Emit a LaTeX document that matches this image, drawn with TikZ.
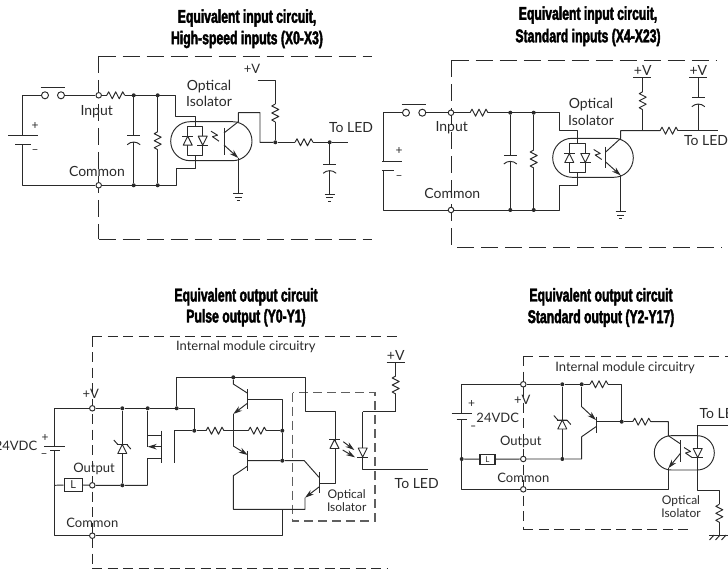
\documentclass[tikz,border=0pt]{standalone}
\usepackage{fontspec}
\setmainfont{Lato}
\newfontfamily\titlefont[FakeStretch=0.66,FakeBold=2.2]{Liberation Sans Bold}
\usepackage{tikz}
\usetikzlibrary{arrows.meta}

\definecolor{ink}{HTML}{2A2A2A}

\tikzset{
  wire/.style={draw=ink, line width=0.95pt, line join=round},
  dashbox/.style={draw=ink, line width=0.95pt, dash pattern=on 17pt off 7pt},
  shortdash/.style={draw=ink, line width=0.95pt, dash pattern=on 10pt off 5.5pt},
  optobox/.style={draw=ink!75, line width=1.3pt, dash pattern=on 9pt off 5pt},
  term/.style={circle, draw=ink, fill=white, line width=0.95pt, minimum size=5.5pt, inner sep=0pt},
  contact/.style={term, minimum size=7pt},
  dot/.style={circle, fill=ink, minimum size=4pt, inner sep=0pt},
  lbl/.style={text=ink, font=\fontsize{14}{15}\selectfont, inner sep=0pt},
  small/.style={text=ink, font=\fontsize{13}{14}\selectfont, inner sep=0pt},
  tiny/.style={text=ink, font=\fontsize{12}{13}\selectfont, inner sep=0pt},
  heading/.style={text=black, font=\titlefont\fontsize{18.5}{20}\selectfont, inner sep=0pt},
  tip/.style={-{Stealth[length=9pt, width=5.5pt]}},
}

\newcommand\resh[1]{\draw[wire] (#1) -- ++(2,-3.5) -- ++(3.5,7) -- ++(3.5,-7) -- ++(3.5,7) -- ++(3.5,-7) -- ++(2,3.5) coordinate (#1e);}
\newcommand\resv[1]{\draw[wire] (#1) -- ++(-3.5,2) -- ++(7,3.5) -- ++(-7,3.5) -- ++(7,3.5) -- ++(-7,3.5) -- ++(3.5,2) coordinate (#1e);}
\newcommand\capv[1]{
  \draw[wire] (#1) ++(-6.5,0) -- ++(13,0);
  \draw[wire] (#1) ++(-6.5,9) .. controls +(3.5,-3.5) and +(-3.5,-3.5) .. +(13,0);
  \path (#1) ++(0,6.4) coordinate (#1e);
}
\newcommand\earth[1]{
  \draw[wire] (#1) ++(-5,0) -- ++(10,0);
  \draw[wire] (#1) ++(-3.5,3.5) -- ++(7,0);
  \draw[wire] (#1) ++(-1.5,7) -- ++(3,0);
}
\newcommand\diodeup[1]{\draw[wire, fill=white] (#1) ++(-4.5,4.5) -- ++(9,0) -- ++(-4.5,-9) -- cycle; \draw[wire] (#1) ++(-5.5,-4.5) -- ++(11,0);}
\newcommand\diodedn[1]{\draw[wire, fill=white] (#1) ++(-4.5,-4.5) -- ++(9,0) -- ++(-4.5,9) -- cycle; \draw[wire] (#1) ++(-5.5,4.5) -- ++(11,0);}
\newcommand\zener[1]{\diodeup{#1} \draw[wire, fill=none] (#1) ++(-8.5,-9) -- ++(4,4.5) -- ++(9,0) -- ++(4,4.5);}
\newcommand\flash[1]{\draw[wire] (#1) ++(-4,-5.5) -- ++(6.5,4) -- ++(-5,1.5) -- ++(6.5,4.5);}

\begin{document}
\begin{tikzpicture}[x=1pt, y=-1pt]
  \useasboundingbox (0,0) rectangle (728,569);

  \node[heading] (TitleA) at (247,18) {Equivalent input circuit,};
  \node[heading] (TitleAb) at (247,39.5) {High-speed inputs (X0-X3)};
  \node[heading] (TitleB) at (588,15) {Equivalent input circuit,};
  \node[heading] (TitleBb) at (588,37.5) {Standard inputs (X4-X23)};
  \node[heading] (TitleC) at (246,296.7) {Equivalent output circuit};
  \node[heading] (TitleCb) at (246,317.7) {Pulse output (Y0-Y1)};
  \node[heading] (TitleD) at (601,296.7) {Equivalent output circuit};
  \node[heading] (TitleDb) at (601,318.3) {Standard output (Y2-Y17)};

  \coordinate (BoxTA) at (372,56);
  \coordinate (BoxNWA) at (98.7,56);
  \coordinate (BoxSWA) at (98.7,239);
  \coordinate (BoxBA) at (372,239);
  \draw[dashbox] (BoxNWA) -- (BoxTA);
  \draw[dashbox] (BoxNWA) -- (BoxSWA);
  \draw[dashbox] (BoxSWA) -- (BoxBA);

  \node[term] (InA) at (98.7,95.3) {};
  \node[term] (ComA) at (98.7,185.3) {};
  \node[contact] (SwLA) at (45,95.3) {};
  \node[contact] (SwRA) at (61,95.3) {};
  \node[dot] (JcapA) at (133.7,95.3) {};
  \node[dot] (JresA) at (157.7,95.3) {};
  \node[dot] (KcapA) at (133.7,185.3) {};
  \node[dot] (KresA) at (157.7,185.3) {};
  \node[dot] (JvA) at (275.3,142.3) {};
  \node[dot] (JoutA) at (329.7,142.3) {};

  \coordinate (BatPA) at (22.7,135.7);
  \coordinate (BatNA) at (22.7,144.7);
  \coordinate (RinA) at (106.7,95.3);
  \coordinate (CinA) at (133.7,135.7);
  \coordinate (RshA) at (157.7,131.7);
  \coordinate (InrA) at (175,95.3);
  \coordinate (InsA) at (175,116);
  \coordinate (AnA) at (195,116);
  \coordinate (DtopA) at (195,126);
  \coordinate (DbotA) at (195,155);
  \coordinate (CatA) at (195,168);
  \coordinate (CasA) at (176.7,168);
  \coordinate (CarA) at (176.7,185.3);
  \coordinate (D1A) at (187.7,140.7);
  \coordinate (D2A) at (202.7,140.7);
  \coordinate (FlashA) at (215,136.7);
  \coordinate (ColA) at (238.3,112.7);
  \coordinate (ColcA) at (238.3,121.7);
  \coordinate (ColbA) at (224,133);
  \coordinate (EmibA) at (224,145);
  \coordinate (EmiA) at (238.3,158);
  \coordinate (ColrA) at (260,112.7);
  \coordinate (ColdA) at (260,142.3);
  \coordinate (GndA) at (238.3,193.5);
  \coordinate (VtopA) at (257.7,80);
  \coordinate (VcnrA) at (275.3,80);
  \coordinate (RvA) at (275.3,104);
  \coordinate (RoutA) at (295,142.3);
  \coordinate (EndA) at (347.7,142.3);
  \coordinate (CoutA) at (329.7,164.3);
  \coordinate (GndbA) at (329.7,194);

  \draw[wire] (InA) -- (RinA);
  \draw[wire] (SwLA) -| (BatPA);
  \draw[wire] (BatNA) |- (ComA);
  \draw[wire] (ComA) -- (CarA) -- (CasA) -- (CatA) -- (DbotA);
  \draw[wire] (SwRA) -- (InA);
  \draw[wire] (40.7,87.3) -- (65.3,87.3);
  \resh{RinA}
  \draw[wire] (RinAe) -- (InrA) -- (InsA) -- (AnA) -- (DtopA);
  \draw[wire] (JcapA) -- (CinA);
  \capv{CinA}
  \draw[wire] (CinAe) -- (KcapA);
  \draw[wire] (JresA) -- (RshA);
  \resv{RshA}
  \draw[wire] (RshAe) -- (KresA);
  \draw[wire] (8,135.7) -- (38,135.7);
  \draw[wire] (15,144.7) -- (30.7,144.7);
  \draw[wire, rounded corners=19.4pt] (170.7,121.7) rectangle (252,160.7);
  \draw[wire] (187.7,126) rectangle (202.7,155);
  \diodeup{D1A}
  \diodedn{D2A}
  \flash{FlashA}
  \draw[wire] (224,128) -- (224,155);
  \draw[wire] (ColbA) -- (ColcA) -- (ColA) -- (ColrA) -- (ColdA) -- (JvA);
  \draw[wire, tip] (EmibA) -- (EmiA);
  \draw[wire] (EmiA) -- (GndA);
  \earth{GndA}
  \draw[wire] (VtopA) -- (VcnrA) -- (RvA);
  \resv{RvA}
  \draw[wire] (RvAe) -- (JvA);
  \draw[wire] (JvA) -- (RoutA);
  \resh{RoutA}
  \draw[wire] (RoutAe) -- (JoutA) -- (EndA);
  \draw[wire] (JoutA) -- (CoutA);
  \capv{CoutA}
  \draw[wire] (CoutAe) -- (GndbA);
  \earth{GndbA}

  \node[lbl] (LInA) at (96.7,111.7) {Input};
  \node[lbl] (LComA) at (97,171.7) {Common};
  \node[lbl] (LOptA) at (209,86.7) {Optical};
  \node[lbl] (LIsoA) at (209,101.7) {Isolator};
  \node[small] (LVA) at (252,69) {+V};
  \node[lbl] (LLedA) at (351,128) {To LED};
  \node[tiny] (LPA) at (35,126) {+};
  \node[tiny] (LMA) at (35,152) {--};

  \coordinate (BoxTB) at (716.7,60.3);
  \coordinate (BoxNWB) at (451.7,60.3);
  \coordinate (BoxSWB) at (451.7,247);
  \coordinate (BoxBs) at (457,247);
  \coordinate (BoxBB) at (721.7,247);
  \draw[dashbox] (BoxNWB) -- (BoxTB);
  \draw[dashbox] (BoxNWB) -- (BoxSWB);
  \draw[dashbox] (BoxBs) -- (BoxBB);

  \node[term] (InB) at (451,112.7) {};
  \node[term] (ComB) at (451,210) {};
  \node[contact] (SwLB) at (406,112.7) {};
  \node[contact] (SwRB) at (422.3,112.7) {};
  \node[dot] (JcapB) at (510.3,112.7) {};
  \node[dot] (JresB) at (533.7,112.7) {};
  \node[dot] (KcapB) at (510.3,210) {};
  \node[dot] (KresB) at (533.7,210) {};

  \coordinate (BatPB) at (383.3,161.7);
  \coordinate (BatNB) at (383.3,170.3);
  \coordinate (RinB) at (470,112.7);
  \coordinate (CinB) at (510.3,155);
  \coordinate (RshB) at (533.7,150);
  \coordinate (InrB) at (559,112.7);
  \coordinate (InsB) at (559,130.7);
  \coordinate (AnB) at (577.3,130.7);
  \coordinate (DtopB) at (577.3,143.3);
  \coordinate (DbotB) at (577.3,172.3);
  \coordinate (CatB) at (577.3,185);
  \coordinate (CasB) at (559,185);
  \coordinate (CarB) at (559,210);
  \coordinate (D1B) at (569.3,158);
  \coordinate (D2B) at (585.3,158);
  \coordinate (FlashB) at (597.7,155);
  \coordinate (ColB) at (620.7,130.7);
  \coordinate (ColcB) at (620.7,138.3);
  \coordinate (ColbB) at (605.7,152);
  \coordinate (EmibB) at (605.7,162);
  \coordinate (EmiB) at (620.7,175.5);
  \coordinate (GndB) at (620.7,211.7);
  \coordinate (JvB) at (642.7,130.7);
  \coordinate (VpB) at (642.7,77.3);
  \coordinate (RvB) at (642.7,91.7);
  \coordinate (RoutB) at (660,130.7);
  \coordinate (EndB) at (717.7,130.7);
  \coordinate (CpB) at (698.3,77.3);
  \coordinate (CoutB) at (698.3,97.7);
  \coordinate (JcB) at (698.3,130.7);

  \draw[wire] (SwLB) -| (BatPB);
  \draw[wire] (BatNB) |- (ComB);
  \draw[wire] (SwRB) -- (InB) -- (RinB);
  \draw[wire] (401.7,104.3) -- (426,104.3);
  \resh{RinB}
  \draw[wire] (RinBe) -- (InrB) -- (InsB) -- (AnB) -- (DtopB);
  \draw[wire] (JcapB) -- (CinB);
  \capv{CinB}
  \draw[wire] (CinBe) -- (KcapB);
  \draw[wire] (JresB) -- (RshB);
  \resv{RshB}
  \draw[wire] (RshBe) -- (KresB);
  \draw[wire] (ComB) -- (CarB) -- (CasB) -- (CatB) -- (DbotB);
  \draw[wire] (382.3,161.7) -- (401.7,161.7);
  \draw[wire] (382.3,170.3) -- (394,170.3);
  \draw[wire, rounded corners=19.4pt] (552.7,138.3) rectangle (633.3,177.3);
  \draw[wire] (569.3,143.3) rectangle (585.3,172.3);
  \diodeup{D1B}
  \diodedn{D2B}
  \flash{FlashB}
  \draw[wire] (605.7,146.7) -- (605.7,167.7);
  \draw[wire] (ColbB) -- (ColcB) -- (ColB) -- (RoutB);
  \draw[wire, tip] (EmibB) -- (EmiB);
  \draw[wire] (EmiB) -- (GndB);
  \earth{GndB}
  \draw[wire] (633.3,77.3) -- (651,77.3);
  \draw[wire] (VpB) -- (RvB);
  \resv{RvB}
  \draw[wire] (RvBe) -- (JvB);
  \resh{RoutB}
  \draw[wire] (RoutBe) -- (EndB);
  \draw[wire] (689.3,77.3) -- (706.7,77.3);
  \draw[wire] (CpB) -- (CoutB);
  \capv{CoutB}
  \draw[wire] (CoutBe) -- (JcB);

  \node[lbl] (LInB) at (451.7,127.3) {Input};
  \node[lbl] (LComB) at (452.3,193.3) {Common};
  \node[lbl] (LOptB) at (591,104.3) {Optical};
  \node[lbl] (LIsoB) at (591,120) {Isolator};
  \node[lbl] (LVB) at (642.7,70) {+V};
  \node[lbl] (LVcB) at (698.3,70) {+V};
  \node[lbl] (LLedB) at (706,141) {To LED};
  \node[tiny] (LPB) at (399,151) {+};
  \node[tiny] (LMB) at (399,178) {--};

  \coordinate (BoxTC) at (396.7,336.7);
  \coordinate (BoxNWC) at (92,336.7);
  \coordinate (BoxSWC) at (92,568.3);
  \coordinate (BoxBC) at (388,568.3);
  \draw[shortdash] (BoxNWC) -- (BoxTC);
  \draw[shortdash] (BoxNWC) -- (BoxSWC);
  \draw[shortdash] (BoxSWC) -- (BoxBC);
  \draw[optobox] (292.7,392.7) rectangle (375,521);

  \node[term] (VtC) at (92.3,408.3) {};
  \node[term] (OutC) at (92.3,485.3) {};
  \node[term] (ComC) at (92.3,535.7) {};
  \node[dot] (JzC) at (122.3,408.3) {};
  \node[dot] (KzC) at (122.3,485.3) {};
  \node[dot] (JmC) at (147.7,408.3) {};
  \node[dot] (JrC) at (176.7,408.3) {};
  \node[dot] (JgC) at (194.3,430.7) {};
  \node[dot] (JtC) at (233.3,377.3) {};
  \node[dot] (JbC) at (282.3,430.7) {};
  \node[dot] (JcC) at (282.3,460.7) {};
  \node[draw=ink, line width=1.1pt, minimum width=18.3pt, minimum height=12.7pt, inner sep=0pt, text=ink, font=\fontsize{11}{12}\selectfont] (LoadC) at (73.2,484.7) {L};

  \coordinate (BatC) at (54.7,408.3);
  \coordinate (BatPC) at (54.7,446.3);
  \coordinate (BatNC) at (54.7,450.7);
  \coordinate (LlC) at (54.7,485.3);
  \coordinate (BotC) at (54.7,535.7);
  \coordinate (RailC) at (194.3,408.3);
  \coordinate (ZeC) at (122.3,449);
  \coordinate (MtC) at (147.7,435);
  \coordinate (MmC) at (147.7,446.7);
  \coordinate (MbC) at (147.7,458.3);
  \coordinate (MdC) at (147.7,485.3);
  \coordinate (GtC) at (174,430.7);
  \coordinate (GbC) at (174,463.3);
  \coordinate (RgC) at (206,430.7);
  \coordinate (MidC) at (233.3,430.7);
  \coordinate (RbC) at (248.3,430.7);
  \coordinate (UpC) at (176.7,377.3);
  \coordinate (UprC) at (305.7,377.3);
  \coordinate (LdC) at (305.7,411.7);
  \coordinate (LaC) at (335,411.7);
  \coordinate (LbC) at (335,483.3);
  \coordinate (BsC) at (319,483.3);
  \coordinate (QaC) at (233.3,384);
  \coordinate (QbC) at (247.7,393.3);
  \coordinate (QcC) at (247.7,399.3);
  \coordinate (QdC) at (282.3,399.3);
  \coordinate (QeC) at (247.7,403);
  \coordinate (QfC) at (233.3,414);
  \coordinate (QgC) at (233.3,446);
  \coordinate (QhC) at (247.7,455);
  \coordinate (QiC) at (247.7,460.7);
  \coordinate (QjC) at (304.3,460.7);
  \coordinate (QkC) at (319,477.3);
  \coordinate (QlC) at (319,487);
  \coordinate (QmC) at (305,497.7);
  \coordinate (QnC) at (305,509.3);
  \coordinate (QoC) at (233.3,509.3);
  \coordinate (QpC) at (233.3,475.7);
  \coordinate (QqC) at (247.7,466);
  \coordinate (QrC) at (282.3,509.3);
  \coordinate (QsC) at (282.3,535.7);
  \coordinate (LedaC) at (334.5,444);
  \coordinate (LedbC) at (362.7,452.5);
  \coordinate (LtC) at (362.7,411.7);
  \coordinate (LcC) at (395.7,411.7);
  \coordinate (LeC) at (362.7,469.3);
  \coordinate (EndC) at (428.3,469.3);
  \coordinate (VpC) at (395.7,362.3);
  \coordinate (RvC) at (395.7,376);

  \draw[wire] (BatC) -- (BatPC);
  \draw[wire] (BatNC) -- (BotC) -- (ComC);
  \draw[wire] (BatC) -- (VtC) -- (JzC) -- (JmC) -- (JrC) -- (RailC) -- (JgC);
  \draw[wire] (44,446.3) -- (65.3,446.3);
  \draw[wire] (50,450.7) -- (60,450.7);
  \draw[wire] (LlC) -- (LoadC) -- (OutC) -- (KzC) -- (MdC);
  \draw[wire] (JzC) -- (KzC);
  \zener{ZeC}
  \draw[wire] (JmC) -- (MmC);
  \draw[wire] (MtC) -- (161.7,435);
  \draw[wire, tip] (161.7,446.7) -- (MmC);
  \draw[wire] (MbC) -- (161.7,458.3);
  \draw[wire] (MbC) -- (MdC);
  \draw[wire] (161.7,430.7) -- (161.7,463.3);
  \draw[wire] (JgC) -- (GtC) -- (GbC);
  \draw[wire] (JgC) -- (RgC);
  \resh{RgC}
  \draw[wire] (RgCe) -- (RbC);
  \resh{RbC}
  \draw[wire] (RbCe) -- (JbC);
  \draw[wire] (JrC) -- (UpC) -- (UprC) -- (LdC) -- (LaC) -- (LbC) -- (BsC);
  \draw[wire] (JtC) -- (QaC) -- (QbC);
  \draw[wire] (247.7,389) -- (247.7,409);
  \draw[wire] (QcC) -- (QdC) -- (JbC) -- (JcC);
  \draw[wire, tip] (QeC) -- (QfC);
  \draw[wire] (QfC) -- (QgC);
  \draw[wire, tip] (QgC) -- (QhC);
  \draw[wire] (247.7,450.7) -- (247.7,471);
  \draw[wire] (QiC) -- (JcC) -- (QjC) -- (QkC);
  \draw[wire] (319,472.3) -- (319,493.3);
  \draw[wire, tip] (QlC) -- (QmC);
  \draw[wire] (QmC) -- (QnC) -- (QoC) -- (QpC) -- (QqC);
  \draw[wire] (QrC) -- (QsC) -- (ComC);
  \diodeup{LedaC}
  \draw[wire] (LtC) -- (LeC) -- (EndC);
  \diodedn{LedbC}
  \draw[wire, tip] (343.3,441.7) -- (354.3,450);
  \draw[wire, tip] (342.7,450) -- (355,457.3);
  \draw[wire] (LtC) -- (LcC);
  \draw[wire] (386.7,362.3) -- (405,362.3);
  \draw[wire] (VpC) -- (RvC);
  \resv{RvC}
  \draw[wire] (RvCe) -- (LcC);

  \node[small] (LModC) at (245.8,347.3) {Internal module circuitry};
  \node[small] (LVtC) at (90.7,394.3) {+V};
  \node[small, anchor=east] (LVdcC) at (37.5,446.3) {24VDC};
  \node[tiny] (LPC) at (45,438) {+};
  \node[tiny] (LMC) at (44,455.7) {--};
  \node[small] (LOutC) at (94,469) {Output};
  \node[small] (LComC) at (92.3,523) {Common};
  \node[lbl] (LVC) at (395.7,355.7) {+V};
  \node[lbl] (LLedC) at (416.7,483.3) {To LED};
  \node[tiny] (LOptC) at (346.7,495.5) {Optical};
  \node[tiny] (LIsoC) at (346.7,507.5) {Isolator};

  \coordinate (BoxTD) at (728,356);
  \coordinate (BoxNWD) at (523.3,356);
  \coordinate (BoxSWD) at (523.3,529);
  \coordinate (BoxBD) at (691.7,529);
  \draw[shortdash] (BoxNWD) -- (BoxTD);
  \draw[shortdash] (BoxNWD) -- (BoxSWD);
  \draw[shortdash] (BoxSWD) -- (BoxBD);

  \node[term] (VtD) at (523.3,384.3) {};
  \node[term] (OutD) at (523.3,459) {};
  \node[term] (ComD) at (523.3,489.3) {};
  \node[dot] (JzD) at (562.3,384.3) {};
  \node[dot] (KzD) at (562.3,459) {};
  \node[dot] (JqD) at (581.7,384.3) {};
  \node[dot] (JbD) at (621.7,421.7) {};
  \node[dot] (JlD) at (461.7,459) {};
  \node[draw=ink, line width=1.1pt, minimum width=15pt, minimum height=10.3pt, inner sep=0pt, text=ink, font=\fontsize{8}{9}\selectfont] (LoadD) at (487.5,459.2) {L};

  \coordinate (BatD) at (461.7,384.3);
  \coordinate (BatPD) at (461.7,413.3);
  \coordinate (BatND) at (461.7,419);
  \coordinate (BotD) at (461.7,489.3);
  \coordinate (RtopD) at (590,384.3);
  \coordinate (RailD) at (621.7,384.3);
  \coordinate (ZeD) at (562.3,424.5);
  \coordinate (EnD) at (581.7,406.7);
  \coordinate (EbD) at (596,420);
  \coordinate (BsD) at (596,421.7);
  \coordinate (CbD) at (596,426.7);
  \coordinate (CnD) at (581.7,436.7);
  \coordinate (CdD) at (581.7,459);
  \coordinate (RoutD) at (632.7,421.7);
  \coordinate (CrD) at (668.3,421.7);
  \coordinate (CtD) at (668.3,435.7);
  \coordinate (CsD) at (680.7,444);
  \coordinate (EsD) at (680.7,453);
  \coordinate (EeD) at (668.3,468.3);
  \coordinate (EdD) at (668.3,489.3);
  \coordinate (LedD) at (697.7,453);
  \coordinate (LtD) at (697.7,425);
  \coordinate (EndD) at (728,425);
  \coordinate (LbD) at (697.7,490);
  \coordinate (LrD) at (719.3,490);
  \coordinate (RvD) at (719.3,504.3);
  \coordinate (GnD) at (719.3,535);
  \coordinate (FlashD) at (688,453);

  \draw[wire] (BatD) -- (BatPD);
  \draw[wire] (BatND) -- (JlD) -- (BotD) -- (ComD);
  \draw[wire] (BatD) -- (VtD) -- (JzD) -- (JqD) -- (RtopD);
  \resh{RtopD}
  \draw[wire] (RtopDe) -- (RailD) -- (JbD);
  \draw[wire] (451.7,413.3) -- (471.7,413.3);
  \draw[wire] (456.7,419) -- (466.7,419);
  \draw[wire] (JlD) -- (LoadD) -- (OutD) -- (KzD) -- (CdD) -- (CnD) -- (CbD);
  \draw[wire] (JzD) -- (KzD);
  \zener{ZeD}
  \draw[wire] (JqD) -- (EnD);
  \draw[wire, tip] (EnD) -- (EbD);
  \draw[wire] (596,416.7) -- (596,433.3);
  \draw[wire] (BsD) -- (JbD) -- (RoutD);
  \resh{RoutD}
  \draw[wire] (RoutDe) -- (CrD) -- (CtD) -- (CsD);
  \draw[wire, rounded corners=17pt] (654.3,435.7) rectangle (714.3,470);
  \draw[wire] (680.7,440) -- (680.7,461.7);
  \draw[wire, tip] (EsD) -- (EeD);
  \draw[wire] (EeD) -- (EdD) -- (ComD);
  \draw[wire] (EndD) -- (LtD) -- (LbD) -- (LrD) -- (RvD);
  \diodedn{LedD}
  \flash{FlashD}
  \resv{RvD}
  \draw[wire] (RvDe) -- (GnD);
  \draw[wire] (709.3,535) -- (728,535);
  \draw[wire] (714,535) -- (709.5,540);
  \draw[wire] (720,535) -- (715.5,540);
  \draw[wire] (726,535) -- (721.5,540);

  \node[small] (LModD) at (625,368.3) {Internal module circuitry};
  \node[small] (LVtD) at (522.3,400) {+V};
  \node[small] (LVdcD) at (497.7,418.3) {24VDC};
  \node[tiny] (LPD) at (471.7,403.7) {+};
  \node[tiny, font=\bfseries] (LMD) at (473.3,427.7) {--};
  \node[small] (LOutD) at (520.7,442.3) {Output};
  \node[small] (LComD) at (523.3,478.3) {Common};
  \node[lbl, anchor=west] (LLedD) at (699.3,413.3) {To LED};
  \node[tiny] (LOptD) at (681,501.5) {Optical};
  \node[tiny] (LIsoD) at (681,513.5) {Isolator};
\end{tikzpicture}
\end{document}
